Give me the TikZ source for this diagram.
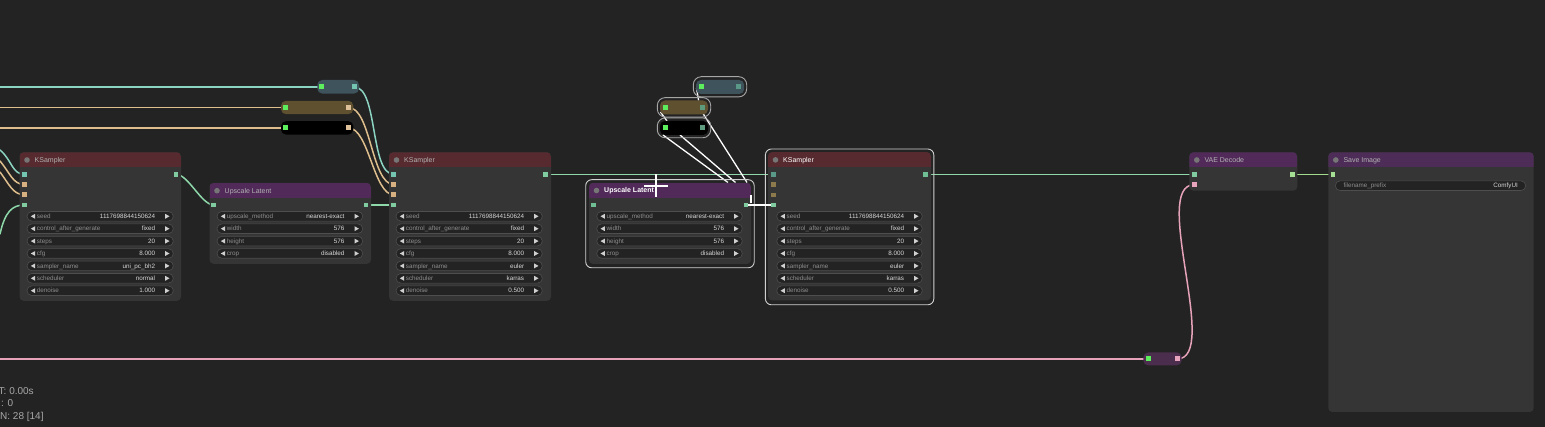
\documentclass[tikz,border=0pt]{standalone}
\usepackage{fontspec}
\setmainfont{Liberation Sans}
\pgfdeclarelayer{bglayer}
\pgfdeclarelayer{linklayer}
\pgfsetlayers{bglayer,linklayer,main}
\definecolor{bgc}{HTML}{232323}
\definecolor{bodyc}{HTML}{353535}
\definecolor{redt}{HTML}{562A2E}
\definecolor{purt}{HTML}{512A5A}
\definecolor{savet}{HTML}{4D2C57}
\definecolor{dotc}{HTML}{767676}
\definecolor{titc}{HTML}{B2B2B2}
\definecolor{wfill}{HTML}{232323}
\definecolor{wdraw}{HTML}{4E4E4E}
\definecolor{wlabc}{HTML}{8E8E8E}
\definecolor{wvalc}{HTML}{D8D8D8}
\definecolor{warc}{HTML}{D0D0D0}
\definecolor{tealk}{HTML}{8CD4C2}
\definecolor{tank}{HTML}{DEBE8C}
\definecolor{latk}{HTML}{8ED8AA}
\definecolor{pinkk}{HTML}{E6A2B8}
\definecolor{imgk}{HTML}{A2DA8E}
\definecolor{tealsl}{HTML}{74C4B2}
\definecolor{tansl}{HTML}{D6B080}
\definecolor{latsl}{HTML}{80CCA0}
\definecolor{tealdim}{HTML}{5A9888}
\definecolor{tandim}{HTML}{8C7A4C}
\definecolor{latdim}{HTML}{70BE94}
\definecolor{greensl}{HTML}{5CEE5C}
\definecolor{rteal}{HTML}{3E535B}
\definecolor{rbrown}{HTML}{5F5030}
\definecolor{rpink}{HTML}{4B2D4E}
\definecolor{outdim}{HTML}{5E9A7C}
\definecolor{selc}{HTML}{D0D0D0}
\definecolor{statc}{HTML}{A8A8A8}
\definecolor{imgsl}{HTML}{A6E094}
\definecolor{pinksl}{HTML}{E8A4BC}
\newcommand\cnode[7]{%
  \node[nbody, anchor=north west, minimum width={(#4-#2)*1pt}, minimum height={(#5-#3)*1pt}] (#1) at (#2,#3) {};
  \begin{scope}
    \clip[rounded corners=4pt] (#2,#3) rectangle (#4,#5);
    \fill[#6] (#2,#3) rectangle (#4,#3+15);
  \end{scope}
  \fill[dotc] (#2+7.5,#3+7.7) circle (2.8pt);
  \node[anchor=base west, inner sep=0pt] (#1-t) at (#2+15,#3+10.2) {#7};
}
\newcommand\wrow[6]{%
  \node[wbox, anchor=west, minimum width={(#3-#2)*1pt}] (#1) at (#2,#4) {};
  \fill[warc] ([xshift=3.8pt]#1.west) -- ++(4.4pt,2.5pt) -- ++(0,-5pt) -- cycle;
  \fill[warc] ([xshift=-3.8pt]#1.east) -- ++(-4.4pt,2.5pt) -- ++(0,-5pt) -- cycle;
  \node[wlab, anchor=base west] at ([xshift=9.7pt,yshift=-2.25pt]#1.west) {#5};
  \node[wval, anchor=base east] at ([xshift=-18pt,yshift=-2.25pt]#1.east) {#6};
}
\newcommand\kswidgets[6]{%
  \wrow{#1a}{#2}{#3}{216.3}{seed}{1117698844150624}
  \wrow{#1b}{#2}{#3}{228.7}{control\_after\_generate}{fixed}
  \wrow{#1c}{#2}{#3}{241.1}{steps}{20}
  \wrow{#1d}{#2}{#3}{253.5}{cfg}{8.000}
  \wrow{#1e}{#2}{#3}{265.9}{sampler\_name}{#4}
  \wrow{#1f}{#2}{#3}{278.3}{scheduler}{#5}
  \wrow{#1g}{#2}{#3}{290.7}{denoise}{#6}
}
\newcommand\ulwidgets[3]{%
  \wrow{#1a}{#2}{#3}{216.3}{upscale\_method}{nearest-exact}
  \wrow{#1b}{#2}{#3}{228.7}{width}{576}
  \wrow{#1c}{#2}{#3}{241.1}{height}{576}
  \wrow{#1d}{#2}{#3}{253.5}{crop}{disabled}
}
\newcommand\slotat[4]{\node[slotsq, fill=#4] (#1) at (#2,#3) {};}
\newcommand\rbox[6]{%
  \node[#6, anchor=north west, minimum width={(#4-#2)*1pt}, minimum height={(#5-#3)*1pt}] (#1) at (#2,#3) {};}
\begin{document}
\begin{tikzpicture}[x=1pt,y=-1pt,
  nbody/.style={fill=bodyc, rounded corners=4pt, inner sep=0pt, outer sep=0pt},
  wbox/.style={fill=wfill, draw=wdraw, line width=0.6pt, rounded corners=4.75pt, minimum height=9.6pt, inner sep=0pt, outer sep=0pt},
  wlab/.style={inner sep=0pt, text=wlabc, font=\fontsize{6.3}{7}\selectfont},
  wval/.style={inner sep=0pt, text=wvalc, font=\fontsize{6.3}{7}\selectfont},
  slotsq/.style={minimum size=4.6pt, inner sep=0pt, outer sep=0pt},
  rslot/.style={minimum size=5pt, inner sep=0pt, outer sep=0pt},
  rr/.style={rounded corners=5pt, inner sep=0pt, outer sep=0pt},
  rsel/.style={draw=selc!80!black, line width=0.9pt, rounded corners=8pt, inner sep=0pt, outer sep=0pt},
  sel/.style={draw=selc, line width=0.9pt, rounded corners=6pt, inner sep=0pt, outer sep=0pt},
  lk/.style={line width=1.5pt, line cap=round},
  wl/.style={white, line width=1.3pt},
  stat/.style={text=statc, inner sep=0pt, font=\fontsize{10}{12}\selectfont}
]
\useasboundingbox (0,0) rectangle (1545,427);
\begin{pgfonlayer}{bglayer}
  \fill[bgc] (0,0) rectangle (1545,427);
\end{pgfonlayer}

% ---------- selection outlines ----------
\rbox{ul2sel}{585.7}{179.7}{754.2}{267.8}{sel}
\rbox{ks3sel}{765.4}{149.0}{933.8}{304.8}{sel}
\rbox{r2tsel}{693.3}{76.7}{746.7}{96.9}{rsel}
\rbox{r2bsel}{657.3}{97.6}{710.7}{117.0}{rsel}
\rbox{r2ksel}{657.3}{117.9}{710.7}{137.8}{rsel}

% ---------- nodes ----------
\cnode{ks1}{19.5}{152.3}{181}{300.8}{redt}{\textcolor{titc}{\fontsize{7}{8}\selectfont KSampler}}
\kswidgets{ks1w}{27}{173.3}{uni\_pc\_bh2}{normal}{1.000}
\cnode{ul1}{209.5}{183}{371}{263.8}{purt}{\textcolor{titc}{\fontsize{7}{8}\selectfont Upscale Latent}}
\ulwidgets{ul1w}{217}{362.7}
\cnode{ks2}{389}{152.3}{551}{300.8}{redt}{\textcolor{titc}{\fontsize{7}{8}\selectfont KSampler}}
\kswidgets{ks2w}{396}{542.3}{euler}{karras}{0.500}
\cnode{ul2}{589}{182.8}{751}{264}{purt}{\textcolor{white}{\fontsize{7}{8}\selectfont\bfseries Upscale Latent}}
\ulwidgets{ul2w}{596.7}{742.3}
\cnode{ks3}{768}{152.2}{931}{300.3}{redt}{\textcolor{white}{\fontsize{7}{8}\selectfont KSampler}}
\kswidgets{ks3w}{776.7}{922.3}{euler}{karras}{0.500}
\cnode{vae}{1189.3}{152.3}{1297.3}{190.7}{purt}{\textcolor{titc}{\fontsize{7}{8}\selectfont VAE Decode}}
\cnode{save}{1328.3}{152.3}{1533.7}{412}{savet}{\textcolor{titc}{\fontsize{7}{8}\selectfont Save Image}}
\node[wbox, anchor=west, minimum width=190.4pt] (savew) at (1335.3,185.7) {};
\node[wlab, anchor=base west] at ([xshift=8pt,yshift=-2.25pt]savew.west) {filename\_prefix};
\node[wval, anchor=base east] at ([xshift=-7.7pt,yshift=-2.25pt]savew.east) {ComfyUI};

% ---------- reroutes ----------
\rbox{r1t}{317.3}{80}{359}{93.6}{rr, fill=rteal}
\rbox{r1b}{281}{100.8}{353.3}{114.2}{rr, fill=rbrown}
\rbox{r1k}{281}{121.2}{353.3}{134.6}{rr, fill=black}
\rbox{r2t}{696}{80}{744.2}{94}{rr, fill=rteal}
\rbox{r2b}{660}{100.5}{708}{114.5}{rr, fill=rbrown}
\rbox{r2k}{660}{121}{708}{135}{rr, fill=black}
\rbox{rp}{1143.3}{352.4}{1181.7}{365.4}{rr, fill=rpink}

% ---------- slots ----------
\slotat{ks1i1}{24.3}{174.3}{tealsl}
\slotat{ks1i2}{24.3}{184.5}{tansl}
\slotat{ks1i3}{24.3}{194.8}{tansl}
\slotat{ks1i4}{24.3}{205}{latsl}
\slotat{ks1o}{176}{174.3}{latsl}
\slotat{ul1i}{213.7}{205}{latsl}
\slotat{ul1o}{366}{205}{latsl}
\slotat{ks2i1}{393.7}{174.3}{tealsl}
\slotat{ks2i2}{393.7}{184.5}{tansl}
\slotat{ks2i3}{393.7}{194.8}{tansl}
\slotat{ks2i4}{393.7}{205}{latsl}
\slotat{ks2o}{545.7}{174.3}{latsl}
\slotat{ul2i}{593.7}{205}{latdim}
\slotat{ks3i1}{773.3}{174.3}{tealdim}
\slotat{ks3i2}{773.3}{184.6}{tandim}
\slotat{ks3i3}{773.3}{194.9}{tandim}
\slotat{ks3i4}{773.3}{205}{latsl}
\slotat{ks3o}{925.3}{174.3}{latdim}
\slotat{vaei1}{1194.3}{174.3}{latsl}
\slotat{vaei2}{1194.3}{184.7}{pinksl}
\slotat{vaeo}{1292.3}{174.3}{imgsl}
\slotat{savei}{1333}{174.3}{imgsl}
\node[rslot, fill=greensl] (r1ti) at (321.7,87) {};
\node[rslot, fill=tealsl] (r1to) at (354.3,87) {};
\node[rslot, fill=greensl] (r1bi) at (285.7,107.6) {};
\node[rslot, fill=tansl!80!white] (r1bo) at (348.7,107.6) {};
\node[rslot, fill=greensl] (r1ki) at (285.7,128) {};
\node[rslot, fill=tansl!80!white] (r1ko) at (348.7,128) {};
\node[rslot, fill=greensl] (r2ti) at (701.7,87) {};
\node[rslot, fill=tealdim] (r2to) at (738,87) {};
\node[rslot, fill=greensl] (r2bi) at (665.7,107.5) {};
\node[rslot, fill=outdim] (r2bo) at (702.3,107.5) {};
\node[rslot, fill=greensl] (r2ki) at (665.7,128) {};
\node[rslot, fill=outdim] (r2ko) at (702.3,128) {};
\node[rslot, fill=greensl] (rpi) at (1148,359) {};
\node[rslot, fill=pinksl] (rpo) at (1177,359) {};

% ---------- free ends ----------
\coordinate (e1) at (0,87);
\coordinate (e2) at (0,107.6);
\coordinate (e3) at (0,128);
\coordinate (e4) at (0,150);
\coordinate (e5) at (0,161);
\coordinate (e6) at (0,172);
\coordinate (e7) at (0,234);
\coordinate (e8) at (0,359);

% ---------- links ----------
\begin{pgfonlayer}{linklayer}
\draw[lk, tealk] (e1) -- (r1ti.center);
\draw[lk, tank] (e2) -- (r1bi.center);
\draw[lk, tank] (e3) -- (r1ki.center);
\draw[lk, tealk] (r1to.center) .. controls +(23.9,0) and +(-23.9,0) .. (ks2i1.center);
\draw[lk, tank] (r1bo.center) .. controls +(22.2,0) and +(-22.2,0) .. (ks2i2.center);
\draw[lk, tank] (r1ko.center) .. controls +(20,0) and +(-20,0) .. (ks2i3.center);
\draw[lk, tealk] (e4) .. controls (12,160) and (12,174.3) .. (ks1i1.center);
\draw[lk, tank] (e5) .. controls (10,173) and (13,184.5) .. (ks1i2.center);
\draw[lk, tank] (e6) .. controls (9,184) and (13,194.8) .. (ks1i3.center);
\draw[lk, latk] (e7) .. controls (5,212) and (12,205) .. (ks1i4.center);
\draw[lk, latk] (ks1o.center) .. controls +(12.2,0) and +(-12.2,0) .. (ul1i.center);
\draw[lk, latk] (ul1o.center) -- (ks2i4.center);
\draw[lk, latk] (ks2o.center) -- (ks3i1.center);
\draw[lk, latk] (ks3o.center) -- (vaei1.center);
\draw[lk, imgk] (vaeo.center) -- (savei.center);
\draw[lk, pinkk] (e8) -- (rpi.center);
\draw[lk, pinkk] (rpo.center) .. controls +(44,0) and +(-44,0) .. (vaei2.center);
\draw[wl] (696.5,88) -- (698.6,100.6);
\draw[wl] (660.5,112) -- (667,121);
\draw[wl] (663,135) -- (728,182.5);
\draw[wl] (680,135) -- (735.5,182.5);
\draw[wl] (703,113.5) -- (747,182.5);
\end{pgfonlayer}
\slotat{ul2o}{746}{205}{latsl}
\draw[wl] (ul2o.east) -- (ks3i4.west);
\draw[white, line width=1.2pt] (751,195) -- (751,203.3);

% ---------- cursor ----------
\draw[white, line width=1.8pt] (655.7,174.3) -- (655.7,197.3);
\draw[white, line width=1.8pt] (644.3,185.7) -- (667.7,185.7);

% ---------- stats ----------
\node[stat, anchor=base west] (st1) at (-1.5,394.5) {T: 0.00s};
\node[stat, anchor=base west] (st2) at (1,407) {: 0};
\node[stat, anchor=base west] (st3) at (0,420) {N: 28 [14]};
\end{tikzpicture}
\end{document}
